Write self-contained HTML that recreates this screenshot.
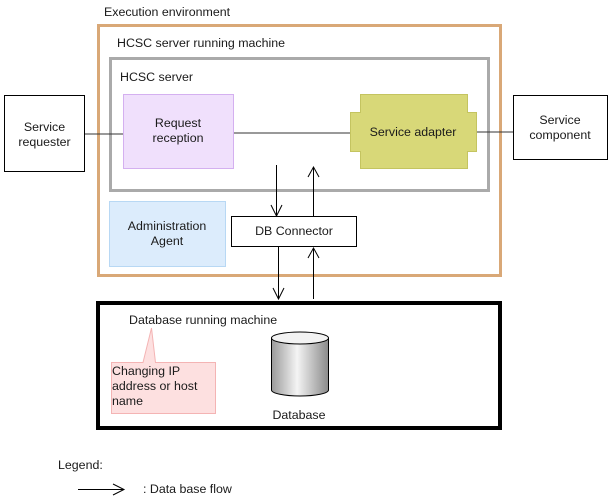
<!DOCTYPE html>
<html><head><meta charset="utf-8"><style>
html,body{margin:0;padding:0;background:#fff}
svg{display:block}
text{font-family:"Liberation Sans",sans-serif;font-size:12.4px;fill:#1a1a1a}
</style></head><body>
<svg width="612" height="499" viewBox="0 0 612 499" xmlns="http://www.w3.org/2000/svg">
<defs>
<linearGradient id="cyl" x1="0" x2="1" y1="0" y2="0">
<stop offset="0" stop-color="#9a9a9a"/><stop offset="0.45" stop-color="#f4f4f4"/><stop offset="1" stop-color="#8a8a8a"/>
</linearGradient>
</defs>
<text x="104" y="16">Execution environment</text>
<rect x="98.5" y="25.5" width="402" height="250" fill="none" stroke="#d9a877" stroke-width="3"/>
<text x="117" y="47">HCSC server running machine</text>
<rect x="110.5" y="58.5" width="378" height="132" fill="none" stroke="#aaaaaa" stroke-width="3"/>
<text x="120" y="81">HCSC server</text>
<line x1="85" y1="134" x2="123" y2="134" stroke="#333"/>
<line x1="234" y1="133" x2="350" y2="133" stroke="#333"/>
<line x1="477" y1="132" x2="513" y2="132" stroke="#333"/>
<rect x="4.5" y="95.5" width="80" height="76" fill="#fff" stroke="#000"/>
<text x="44.5" y="131" text-anchor="middle">Service</text>
<text x="44.5" y="146" text-anchor="middle">requester</text>
<rect x="513.5" y="95.5" width="94" height="64" fill="#fff" stroke="#000"/>
<text x="560" y="124" text-anchor="middle">Service</text>
<text x="560" y="139" text-anchor="middle">component</text>
<rect x="123.5" y="94.5" width="110" height="74" fill="#f0e0fc" stroke="#d4b0f0"/>
<text x="178" y="127" text-anchor="middle">Request</text>
<text x="178" y="142" text-anchor="middle">reception</text>
<path d="M360.5 94.5 H467.5 V112.5 H476.5 V151.5 H467.5 V168.5 H360.5 V151.5 H350.5 V112.5 H360.5 Z" fill="#d8d878" stroke="#c4c460"/>
<text x="413" y="136" text-anchor="middle">Service adapter</text>
<rect x="109.5" y="201.5" width="116" height="65" fill="#dcecfc" stroke="#b8d8f4"/>
<text x="167" y="230" text-anchor="middle">Administration</text>
<text x="167" y="245" text-anchor="middle">Agent</text>
<rect x="231.5" y="216.5" width="125" height="30" fill="#fff" stroke="#000"/>
<text x="294" y="235" text-anchor="middle">DB Connector</text>
<g stroke="#000" fill="none">
<line x1="276.5" y1="165" x2="276.5" y2="216"/><path d="M271 205 L276.5 216 L282 205"/>
<line x1="313.5" y1="216" x2="313.5" y2="167"/><path d="M308 177 L313.5 167 L319 177"/>
<line x1="278.5" y1="246" x2="278.5" y2="299"/><path d="M273 288 L278.5 299 L284 288"/>
<line x1="313.5" y1="299" x2="313.5" y2="248"/><path d="M308 258 L313.5 248 L319 258"/>
</g>
<rect x="98" y="303" width="402" height="125" fill="none" stroke="#000" stroke-width="4"/>
<text x="129" y="324">Database running machine</text>
<path d="M111.5 362.5 H143 L151.5 328 L155.5 362.5 H215.5 V413.5 H111.5 Z" fill="#fde0e0" stroke="#f4b4b4"/>
<text x="112" y="375">Changing IP</text>
<text x="112" y="390">address or host</text>
<text x="112" y="405">name</text>
<path d="M271.5 338 V390 A28.5 6 0 0 0 328.5 390 V338" fill="url(#cyl)" stroke="#000"/>
<ellipse cx="300" cy="338" rx="28.5" ry="6" fill="#f2f2f2" stroke="#000"/>
<text x="299" y="419" text-anchor="middle">Database</text>
<text x="58" y="469">Legend:</text>
<line x1="78" y1="489.5" x2="124" y2="489.5" stroke="#000"/>
<path d="M113 484 L124 489.5 L113 495" fill="none" stroke="#000"/>
<text x="143" y="493">: Data base flow</text>
</svg>
</body></html>
